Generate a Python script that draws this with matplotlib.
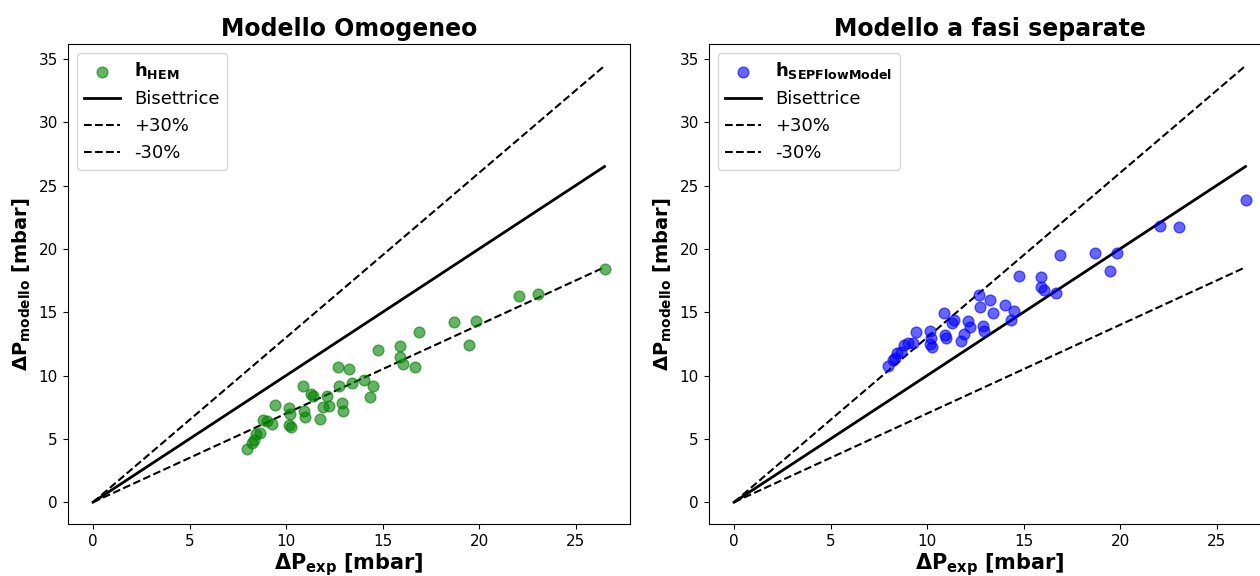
import matplotlib
matplotlib.use("Agg")
import matplotlib.pyplot as plt
import numpy as np

# Experimental pressure drop [mbar]
dp_exp = [26.5, 22.05, 23.07, 18.7, 19.85, 19.48, 16.9, 14.76, 15.88, 15.88,
          16.05, 16.67, 12.68, 13.27, 12.75, 13.42, 14.02, 14.52, 14.37, 12.92,
          12.97, 10.87, 11.28, 11.4, 12.12, 11.91, 12.2, 11.74, 10.13, 10.2,
          10.92, 10.97, 9.44, 10.16, 10.24, 8.79, 9.02, 9.26, 8.64, 8.46,
          8.32, 8.22, 7.97]
# Homogeneous model
dp_hem = [18.4, 16.3, 16.43, 14.24, 14.32, 12.4, 13.45, 12.03, 12.3, 11.48,
          10.9, 10.66, 10.64, 10.48, 9.21, 9.37, 9.61, 9.16, 8.27, 7.85,
          7.21, 9.21, 8.58, 8.4, 8.37, 7.48, 7.61, 6.53, 7.4, 7.0,
          7.19, 6.71, 7.69, 6.08, 5.92, 6.48, 6.37, 6.19, 5.5, 5.42,
          4.9, 4.71, 4.21]
# Separated flow model
dp_sep = [23.83, 21.83, 21.72, 19.69, 19.64, 18.22, 19.51, 17.88, 17.77, 16.96,
          16.77, 16.48, 16.35, 15.96, 15.43, 14.93, 15.53, 15.11, 14.4, 13.93,
          13.51, 14.9, 14.11, 14.4, 14.3, 13.3, 13.85, 12.72, 13.5, 12.95,
          13.19, 13.0, 13.43, 12.48, 12.27, 12.43, 12.58, 12.53, 11.87, 11.74,
          11.4, 11.22, 10.77]

titles = ["Modello Omogeneo", "Modello a fasi separate"]
labels = [r"$\mathbf{h_{HEM}}$", r"$\mathbf{h_{SEPFlowModel}}$"]
colors = ["green", "blue"]
series = [dp_hem, dp_sep]

W, H = 1260, 576
fig = plt.figure(figsize=(W / 100, H / 100), dpi=100)
ax_w = 562.6 / W
ax_b = (576 - 524) / H
ax_h = (524 - 44) / H
lefts = [67.5 / W, 708.5 / W]

x_line = np.array([0, max(dp_exp)])
for i in range(2):
    ax = fig.add_axes([lefts[i], ax_b, ax_w, ax_h])
    ax.scatter(dp_exp, series[i], color=colors[i], alpha=0.6, s=60, label=labels[i], zorder=3)
    ax.plot(x_line, x_line, color="black", lw=2, label="Bisettrice")
    ax.plot(x_line, 1.3 * x_line, color="black", lw=1.5, ls="--", label="+30%")
    ax.plot(x_line, 0.7 * x_line, color="black", lw=1.5, ls="--", label="-30%")
    ax.set_title(titles[i], fontsize=17, fontweight="bold")
    ax.set_xlabel(r"$\mathbf{\Delta P_{exp}}$ [mbar]", fontsize=15, fontweight="bold", labelpad=2)
    ax.set_ylabel(r"$\mathbf{\Delta P_{modello}}$ [mbar]", fontsize=14, fontweight="bold")
    ax.tick_params(labelsize=11)
    ax.legend(loc="upper left", fontsize=13)

fig.savefig("out.png", dpi=100)
